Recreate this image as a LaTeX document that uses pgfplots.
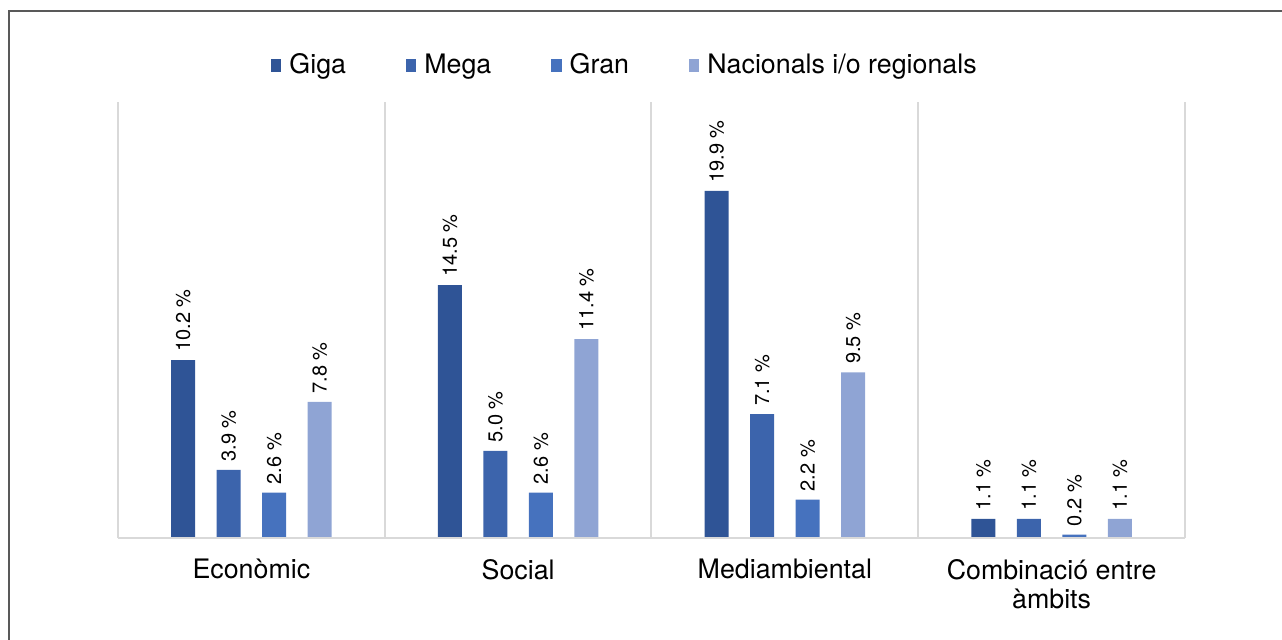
\documentclass[border=0pt]{standalone}
\usepackage{pgfplots}
\pgfplotsset{compat=1.18}
\usepackage{fontspec}
\setmainfont{TeX Gyre Heros}
\definecolor{cgiga}{RGB}{47,84,150}
\definecolor{cmega}{RGB}{60,100,172}
\definecolor{cgran}{RGB}{70,114,190}
\definecolor{cnac}{RGB}{143,164,212}
\definecolor{sepgray}{RGB}{217,217,217}
\begin{document}
\begin{tikzpicture}
\path[use as bounding box] (-59pt,-50.5pt) rectangle (582pt,269pt);
\draw[line width=1pt, color=black!65] (-54.5pt,-51pt) -- (-54.5pt,263.5pt) -- (583pt,263.5pt);
\begin{axis}[
  at={(0,0)}, anchor=south west,
  scale only axis,
  width=533.5pt, height=218pt,
  xmin=-0.5, xmax=3.5, ymin=0, ymax=25,
  ytick=\empty,
  xtick={0,1,2,3},
  xticklabels={Econòmic,Social,Mediambiental,{Combinació entre\\àmbits}},
  xticklabel style={align=center, font=\fontsize{13.4}{14.5}\selectfont, yshift=-7pt},
  major tick length=0pt,
  minor xtick={-0.5,0.5,1.5,2.5,3.5},
  minor tick length=0pt,
  minor x grid style={color=sepgray, line width=1pt},
  xminorgrids=true,
  axis line style={draw=none},
  ybar=10.75pt,
  bar width=12pt,
  enlarge x limits=false,
  /pgf/number format/assume math mode=true,
  nodes near coords={\pgfmathprintnumber[fixed,fixed zerofill,precision=1,assume math mode=true]{\pgfplotspointmeta}~\%},
  nodes near coords style={rotate=90, anchor=west, font=\fontsize{10}{11}\selectfont, inner sep=0pt, xshift=4pt, color=black},
  legend columns=-1,
  legend style={draw=none, fill=none, at={(0.476,1.085)}, anchor=center,
    font=\fontsize{13.4}{14.5}\selectfont,
    /tikz/every even column/.append style={column sep=28pt},
    /tikz/every odd column/.append style={column sep=2pt}},
  legend image code/.code={\fill[#1, draw=none] (0pt,-3.6pt) rectangle (5.2pt,3.2pt);},
]
\addplot[fill=cgiga, draw=none] coordinates {(0,10.2) (1,14.5) (2,19.9) (3,1.1)};
\addplot[fill=cmega, draw=none] coordinates {(0,3.9) (1,5.0) (2,7.1) (3,1.1)};
\addplot[fill=cgran, draw=none] coordinates {(0,2.6) (1,2.6) (2,2.2) (3,0.2)};
\addplot[fill=cnac, draw=none] coordinates {(0,7.8) (1,11.4) (2,9.5) (3,1.1)};
\legend{Giga,Mega,Gran,Nacionals i/o regionals}
\draw[color=sepgray, line width=1pt] (rel axis cs:0,0) -- (rel axis cs:1,0);
\end{axis}
\end{tikzpicture}
\end{document}
